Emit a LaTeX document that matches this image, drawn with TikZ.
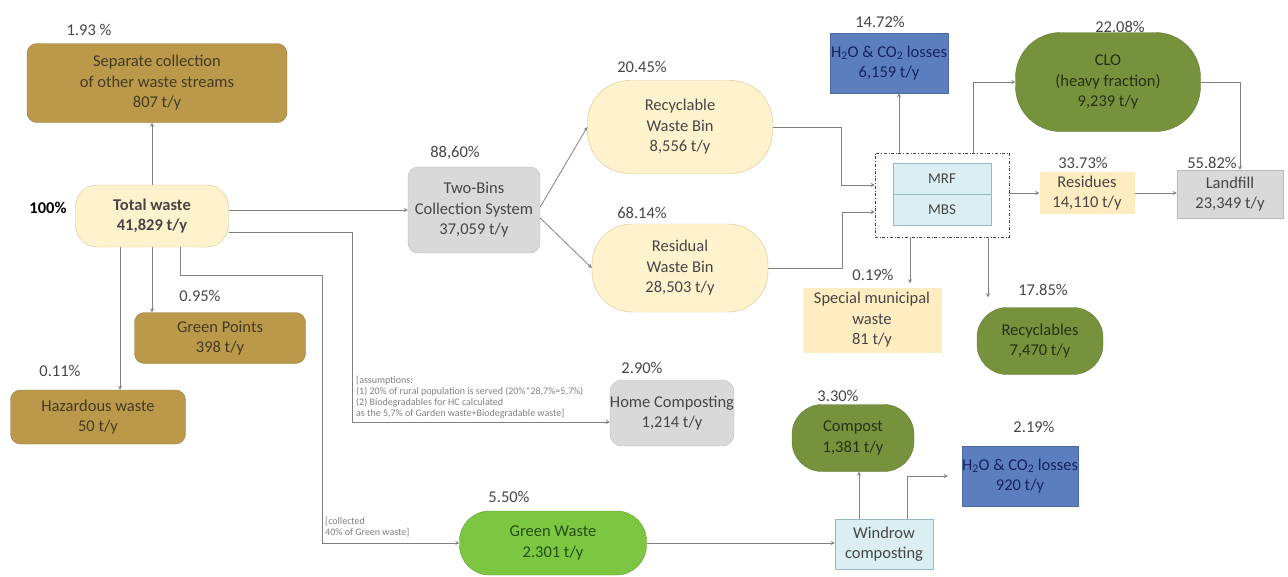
\documentclass[tikz,border=0pt]{standalone}
\usepackage{fontspec}
\setmainfont{Carlito}
\usetikzlibrary{positioning}
\tikzset{>=stealth}
\definecolor{lineGray}{RGB}{128,128,128}
\definecolor{pctGray}{RGB}{70,70,70}
\definecolor{tanFill}{RGB}{186,154,74}
\definecolor{tanDark}{RGB}{150,122,52}
\definecolor{tanText}{RGB}{70,58,35}
\definecolor{creamFill}{RGB}{255,242,204}
\definecolor{creamDark}{RGB}{215,195,140}
\definecolor{peachFill}{RGB}{255,236,192}
\definecolor{greyFill}{RGB}{217,217,217}
\definecolor{greyDark}{RGB}{185,185,185}
\definecolor{oliveFill}{RGB}{118,146,60}
\definecolor{oliveText}{RGB}{40,48,20}
\definecolor{limeFill}{RGB}{125,198,66}
\definecolor{limeText}{RGB}{35,80,20}
\definecolor{blueFill}{RGB}{92,126,190}
\definecolor{blueText}{RGB}{22,36,96}
\definecolor{iceFill}{RGB}{218,238,243}
\definecolor{iceDark}{RGB}{150,185,198}
\tikzset{
  flow/.style={->, draw=lineGray, line width=0.8pt},
  box/.style={align=center, inner sep=0pt, font=\fontsize{16.5}{20.5}\selectfont, text=pctGray},
  tanbox/.style={box, fill=tanFill, draw=tanDark, rounded corners=10pt, text=tanText},
  creambox/.style={box, fill=creamFill, draw=creamDark},
  peachbox/.style={box, fill=peachFill},
  greybox/.style={box, fill=greyFill, draw=greyDark},
  olivebox/.style={box, fill=oliveFill, draw=oliveFill!85!black, text=oliveText},
  bluebox/.style={box, fill=blueFill, draw=blueFill!85!black, text=blueText},
  icebox/.style={box, fill=iceFill, draw=iceDark},
  pct/.style={font=\fontsize{16.5}{19}\selectfont, text=pctGray},
  note/.style={align=left, inner sep=0pt, font=\fontsize{10}{11}\selectfont, text=lineGray}
}
\begin{document}
\begin{tikzpicture}[x=1pt,y=-1pt]
\useasboundingbox (0,0) rectangle (1288,576);
% left branch
\node[tanbox, minimum width=260, minimum height=79] (sep) at (157,83) {Separate collection\\of other waste streams\\807 t/y};
\node[creambox, rounded corners=22pt, minimum width=153, minimum height=62] (tot) at (152,216) {\textbf{Total waste}\\\textbf{41,829 t/y}};
\node[tanbox, minimum width=171, minimum height=51] (gp) at (220,338) {Green Points\\398 t/y};
\node[tanbox, minimum width=175, minimum height=54] (haz) at (98,417) {Hazardous waste\\50 t/y};
% two bins
\node[greybox, rounded corners=10pt, minimum width=132, minimum height=86] (tb) at (474,210) {Two-Bins\\Collection System\\37,059 t/y};
\node[creambox, rounded corners=42pt, minimum width=185, minimum height=93] (rec) at (680,127) {Recyclable\\Waste Bin\\8,556 t/y};
\node[creambox, rounded corners=40pt, minimum width=176, minimum height=88] (res) at (680,268) {Residual\\Waste Bin\\28,503 t/y};
% treatment plant
\node[draw=pctGray, dash dot, minimum width=134, minimum height=84] (pl) at (942,195) {};
\node[icebox, minimum width=98, minimum height=31, font=\fontsize{15}{17}\selectfont] (mrf) at (942,179) {MRF};
\node[icebox, minimum width=98, minimum height=31, font=\fontsize{15}{17}\selectfont] (mbs) at (942,210) {MBS};
\node[bluebox, minimum width=118, minimum height=60] (h2oA) at (889,63) {H\textsubscript{2}O \& CO\textsubscript{2} losses\\6,159 t/y};
\node[olivebox, rounded corners=45pt, minimum width=185, minimum height=99] (clo) at (1108,82) {CLO\\(heavy fraction)\\9,239 t/y};
\node[peachbox, minimum width=95, minimum height=42] (resid) at (1087,193) {Residues\\14,110 t/y};
\node[greybox, minimum width=106, minimum height=48] (land) at (1230,194) {Landfill\\23,349 t/y};
\node[peachbox, minimum width=139, minimum height=65] (smw) at (872,320) {Special municipal\\waste\\81 t/y};
\node[olivebox, rounded corners=30pt, minimum width=126, minimum height=67] (rcy) at (1040,341) {Recyclables\\7,470 t/y};
% composting
\node[greybox, rounded corners=12pt, minimum width=120, minimum height=66] (hc) at (672,413) {Home Composting\\1,214 t/y};
\node[box, fill=limeFill, draw=limeFill!80!black, text=limeText, rounded corners=30pt, minimum width=187, minimum height=64] (gw) at (553,543) {Green Waste\\2.301 t/y};
\node[icebox, minimum width=98, minimum height=50] (wc) at (884,544) {Windrow\\composting};
\node[olivebox, rounded corners=30pt, minimum width=122, minimum height=67] (cmp) at (853,438) {Compost\\1,381 t/y};
\node[bluebox, minimum width=114, minimum height=60] (h2oB) at (1020,476) {H\textsubscript{2}O \& CO\textsubscript{2} losses\\920 t/y};
% percentages
\node[pct] (p1) at (89,30) {1.93 \%};
\node[pct, font=\fontsize{16.5}{19}\selectfont\bfseries, text=black] (p2) at (48,208) {100\%};
\node[pct] (p3) at (200,296) {0.95\%};
\node[pct] (p4) at (60,371) {0.11\%};
\node[pct] (p5) at (455,153) {88,60\%};
\node[pct] (p6) at (642,67) {20.45\%};
\node[pct] (p7) at (642,213) {68.14\%};
\node[pct] (p8) at (880,22) {14.72\%};
\node[pct] (p9) at (1120,27) {22.08\%};
\node[pct] (p10) at (1083,163) {33.73\%};
\node[pct] (p11) at (1212,163) {55.82\%};
\node[pct] (p12) at (873,275) {0.19\%};
\node[pct] (p13) at (1043,290) {17.85\%};
\node[pct] (p14) at (642,368) {2.90\%};
\node[pct] (p15) at (838,396) {3.30\%};
\node[pct] (p16) at (1034,427) {2.19\%};
\node[pct] (p17) at (509,497) {5.50\%};
% notes
\node[note, anchor=south west] (nhc) at (356,418) {[assumptions:\\(1) 20\% of rural population is served (20\%*28,7\%=5,7\%)\\(2) Biodegradables for HC calculated\\as the 5,7\% of Garden waste+Biodegradable waste]};
\node[note, anchor=south west] (ngw) at (325,537) {[collected\\40\% of Green waste]};
% connectors
\coordinate (gwturn) at (322,275);
\coordinate (hcturn) at (352,232);
\draw[flow] (tot.north) -- (tot.north |- sep.south);
\draw[flow] ([xshift=-32pt]tot.south) -- ([xshift=-32pt]tot.south |- haz.north);
\draw[flow] (tot.south) -- (tot.south |- gp.north);
\draw[flow] ([xshift=28pt]tot.south) |- (gwturn) |- (gw.west);
\draw[flow] (tot.east |- hcturn) -- (hcturn) |- ([yshift=-9pt]hc.west);
\draw[flow] (tot.east |- tb.west) -- (tb.west);
\draw[flow] ([yshift=3pt]tb.east) -- (rec.west);
\draw[flow] ([yshift=-8pt]tb.east) -- (res.west);
\draw[flow] (rec.east) -- ++(69,0) |- ([yshift=10pt]pl.west);
\draw[flow] (res.east) -- ++(74,0) |- ([yshift=-17pt]pl.west);
\draw[flow] ([xshift=-43pt]pl.north) -- ([xshift=-43pt]pl.north |- h2oA.south);
\draw[flow] ([xshift=31pt]pl.north) |- (clo.west);
\draw[flow] (clo.east) -| ([xshift=10pt]land.north);
\draw[flow] (resid.west -| pl.east) -- (resid.west);
\draw[flow] (resid.east) -- (resid.east -| land.west);
\draw[flow, shorten >=4pt] ([xshift=-32pt]pl.south) -- ([xshift=-32pt]pl.south |- smw.north);
\draw[flow, shorten >=10pt] ([xshift=46pt]pl.south) -- ([xshift=46pt]pl.south |- rcy.north);
\draw[flow] (gw.east) -- (gw.east -| wc.west);
\draw[flow] ([xshift=-25pt]wc.north) -- ([xshift=-25pt]wc.north |- cmp.south);
\draw[flow, shorten >=14pt] ([xshift=23pt]wc.north) |- (h2oB.west);
\end{tikzpicture}
\end{document}
